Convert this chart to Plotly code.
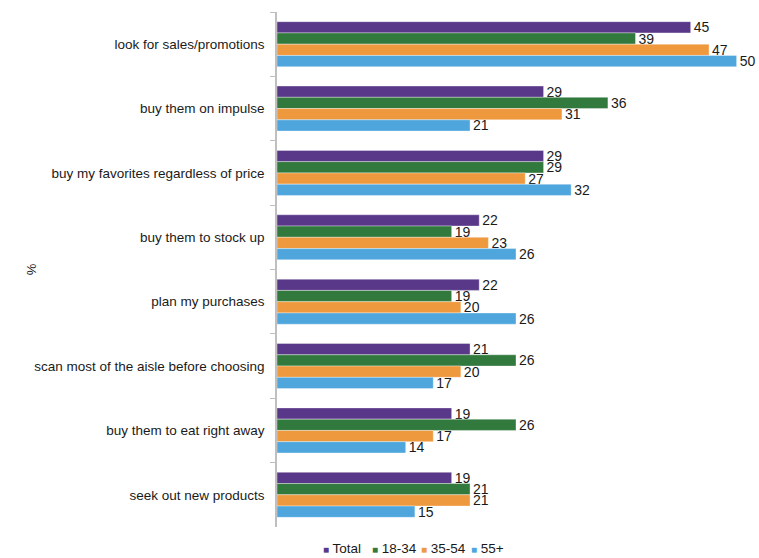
import plotly.graph_objects as go

categories = [
    "look for sales/promotions",
    "buy them on impulse",
    "buy my favorites regardless of price",
    "buy them to stock up",
    "plan my purchases",
    "scan most of the aisle before choosing",
    "buy them to eat right away",
    "seek out new products",
]
total = [45, 29, 29, 22, 22, 21, 19, 19]
age_18_34 = [39, 36, 29, 19, 19, 26, 26, 21]
age_35_54 = [47, 31, 27, 23, 20, 20, 17, 21]
age_55_plus = [50, 21, 32, 26, 26, 17, 14, 15]

series = [
    ("Total", total, "#5A3889"),
    ("18-34", age_18_34, "#32793D"),
    ("35-54", age_35_54, "#EF993E"),
    ("55+", age_55_plus, "#4FA6DD"),
]

FONT = "Liberation Sans, Arial, sans-serif"
TEXT = "#1a1a1a"

fig = go.Figure()
for name, vals, color in series:
    fig.add_trace(go.Bar(
        y=categories,
        x=vals,
        name=name,
        orientation="h",
        marker=dict(color=color, line=dict(color="rgba(255,255,255,0.6)", width=0.6)),
        text=[str(v) for v in vals],
        textposition="outside",
        constraintext="none",
        textfont=dict(size=14, color=TEXT, family=FONT),
        cliponaxis=False,
        showlegend=False,
    ))

# compact legend row beneath the plot: small coloured square + label
legend_x = [0.092, 0.195, 0.297, 0.402]
legend_items = [
    dict(
        text=f'<span style="color:{color};font-size:10px">■</span> {name}',
        xref="paper", yref="paper",
        x=lx, y=-0.0408,
        xanchor="left", yanchor="middle",
        showarrow=False,
        font=dict(size=13.5, color=TEXT, family=FONT),
    )
    for (name, _, color), lx in zip(series, legend_x)
]

fig.update_layout(
    width=759,
    height=558,
    barmode="group",
    bargap=0.3,
    bargroupgap=0,
    plot_bgcolor="white",
    paper_bgcolor="white",
    margin=dict(l=277, r=4, t=12, b=31, autoexpand=False),
    font=dict(family=FONT, color=TEXT),
    showlegend=False,
    xaxis=dict(
        range=[0, 52],
        showgrid=False,
        zeroline=False,
        showline=False,
        showticklabels=False,
        ticks="",
    ),
    yaxis=dict(
        autorange="reversed",
        showgrid=False,
        showline=True,
        linecolor="#BFBFBF",
        linewidth=1.5,
        ticks="outside",
        tickson="boundaries",
        ticklen=5,
        tickcolor="#BFBFBF",
        tickfont=dict(size=13.5, color=TEXT),
        ticklabelstandoff=8,
    ),
    annotations=[dict(
        text="%",
        textangle=-90,
        xref="paper",
        yref="paper",
        x=-0.533,
        y=0.5,
        showarrow=False,
        font=dict(size=13, color=TEXT),
    )] + legend_items,
)

fig.write_html("out.html")
